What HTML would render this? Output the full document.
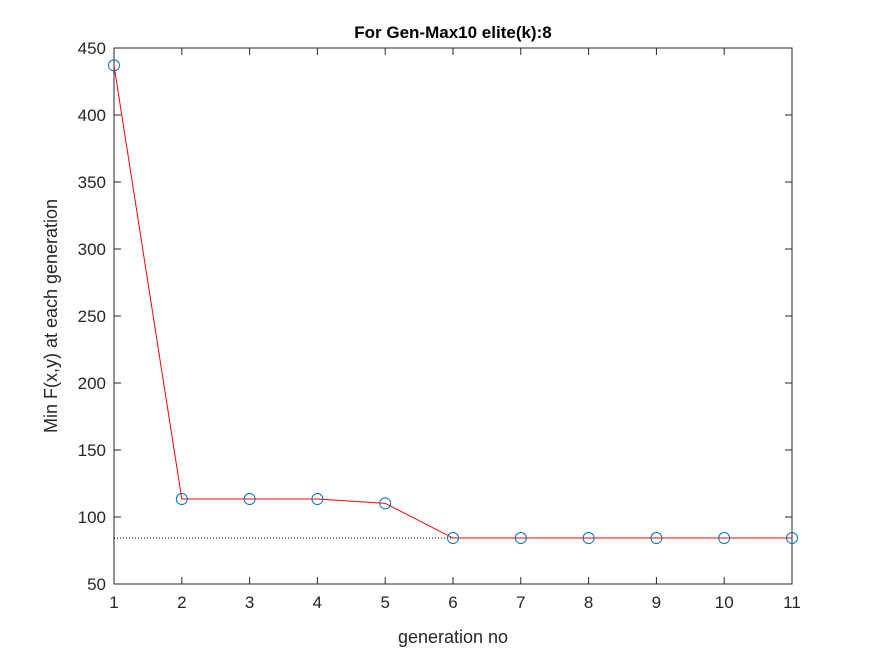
<!DOCTYPE html>
<html><head><meta charset="utf-8"><style>
body{margin:0;background:#fff;}
svg{display:block;font-family:"Liberation Sans",Arial,sans-serif;}
</style></head><body>
<svg id="chart" width="875" height="656">
<rect x="0" y="0" width="875" height="656" fill="#fff"/>
<rect x="114" y="48" width="678" height="536" fill="#fff" stroke="#262626" stroke-width="1"/>
<g id="axes"></g>
<g id="marks"></g>
<text x="453" y="38" text-anchor="middle" font-size="17" font-weight="bold" fill="#000">For Gen-Max10 elite(k):8</text>
<text x="453" y="643" text-anchor="middle" font-size="18" fill="#262626">generation no</text>
<text transform="translate(57,316) rotate(-90)" text-anchor="middle" font-size="18" fill="#262626">Min F(x,y) at each generation</text>
</svg>
<script>
const generations=[1,2,3,4,5,6,7,8,9,10,11];
const minValues=[437,113.4,113.4,113.4,110.2,84.3,84.3,84.3,84.3,84.3,84.3];
const bestValue=84.3;
const xTicks=[1,2,3,4,5,6,7,8,9,10,11];
const yTicks=[50,100,150,200,250,300,350,400,450];
const X0=114,X1=792,Y0=584,Y1=48;
const sx=v=>X0+(v-1)/(11-1)*(X1-X0);
const sy=v=>Y0-(v-50)/(450-50)*(Y0-Y1);
const NS="http://www.w3.org/2000/svg";
const axes=document.getElementById('axes'),marks=document.getElementById('marks');
function mk(tag,attrs,parent){const e=document.createElementNS(NS,tag);for(const k in attrs)e.setAttribute(k,attrs[k]);parent.appendChild(e);return e;}
xTicks.forEach(t=>{const x=sx(t);
 const l1=mk('line',{x1:x,x2:x,y1:Y0,y2:Y0-7,stroke:'#262626'},axes);
 
 
 const l2=mk('line',{x1:x,x2:x,y1:Y1,y2:Y1+7,stroke:'#262626'},axes);
 
 
 const tx=mk('text',{x:x,y:Y0+24,'text-anchor':'middle','font-size':'17',fill:'#262626'},axes);tx.textContent=t;
 
 
});
yTicks.forEach(t=>{const y=sy(t);
 const l1=mk('line',{x1:X0,x2:X0+7,y1:y,y2:y,stroke:'#262626'},axes);
 
 
 const l2=mk('line',{x1:X1,x2:X1-7,y1:y,y2:y,stroke:'#262626'},axes);
 
 
 const tx=mk('text',{x:X0-8,y:y+6,'text-anchor':'end','font-size':'17',fill:'#262626'},axes);tx.textContent=t;
 
 
});
const ref=mk('line',{x1:X0,x2:X1,y1:sy(bestValue),y2:sy(bestValue),stroke:'#000','stroke-width':1,'stroke-dasharray':'1,2'},marks);


const pl=mk('polyline',{points:generations.map((g,i)=>sx(g)+','+sy(minValues[i])).join(' '),fill:'none',stroke:'#ff0000','stroke-width':1},marks);


generations.forEach((g,i)=>{
 const c=mk('circle',{cx:sx(g),cy:sy(minValues[i]),r:5.5,fill:'none',stroke:'#0072bd','stroke-width':1},marks);
 
 
});
</script>
</body></html>
